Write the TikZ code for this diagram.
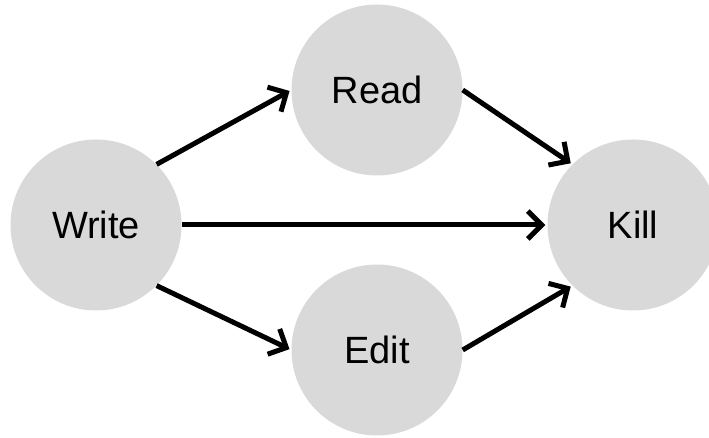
\documentclass[tikz,border=0pt]{standalone}
\usepackage{fontspec}
\setmainfont{Liberation Sans}
\usetikzlibrary{arrows.meta}
\definecolor{stategray}{HTML}{D9D9D9}
\begin{document}
\begin{tikzpicture}[x=1pt,y=1pt,
  state/.style={circle, fill=stategray, draw=none, minimum size=171pt, inner sep=0pt,
    font=\fontsize{38}{42}\selectfont},
  flow/.style={line width=5pt, -{Straight Barb[length=14pt,width=28pt,line width=5pt]}, shorten >=2pt}
]
\useasboundingbox (0,0) rectangle (709,438);
\clip (0,0) rectangle (709,438);
\node[state] (w) at (96,213) {Write};
\node[state] (r) at (377,348) {Read};
\node[state] (e) at (377,88) {Edit};
\node[state] (k) at (633,213) {Kill};
\draw[flow] (w.45) -- (r.west);
\draw[flow] (w.east) -- (k.west);
\draw[flow] (w.-45) -- (e.west);
\draw[flow] (r.east) -- (k.135);
\draw[flow] (e.east) -- (k.-135);
\end{tikzpicture}
\end{document}
